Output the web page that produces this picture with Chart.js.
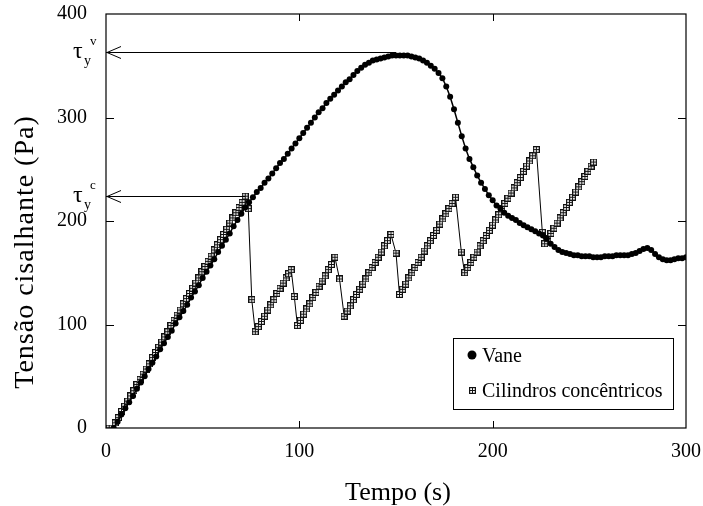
<!DOCTYPE html>
<html>
<head>
<meta charset="utf-8">
<script src="https://cdn.jsdelivr.net/npm/chart.js@4.4.1/dist/chart.umd.min.js"></script>
<style>
  html, body { margin: 0; padding: 0; background: #fff; }
  canvas { display: block; }
</style>
</head>
<body>
<canvas id="shearChart" width="703" height="506"></canvas>
<script>
// Values (tempo em s, tensão em Pa)
const vaneTime = [
    4, 6, 8, 10, 12, 14, 16, 18, 20, 22, 24, 26, 28, 30, 32, 34, 36, 38, 40, 42,
    44, 46, 48, 50, 52, 54, 56, 58, 60, 62, 64, 66, 68, 70, 72, 74, 76, 78, 80, 82,
    84, 86, 88, 90, 92, 94, 96, 98, 100, 102, 104, 106, 108, 110, 112, 114, 116, 118, 120, 122,
    124, 126, 128, 130, 132, 134, 136, 138, 140, 142, 144, 146, 148, 150, 152, 154, 156, 158, 160, 162,
    164, 166, 168, 170, 172, 174, 176, 178, 180, 182, 184, 186, 188, 190, 192, 194, 196, 198, 200, 202,
    204, 206, 208, 210, 212, 214, 216, 218, 220, 222, 224, 226, 228, 230, 232, 234, 236, 238, 240, 242,
    244, 246, 248, 250, 252, 254, 256, 258, 260, 262, 264, 266, 268, 270, 272, 274, 276, 278, 280, 282,
    284, 286, 288, 290, 292, 294, 296, 298, 300
];
const vaneStress = [
    0, 6, 13, 19, 25, 31, 38, 44, 50, 57, 63, 69, 76, 82, 88, 94, 101, 107, 113, 119,
    126, 132, 138, 145, 151, 157, 163, 170, 176, 182, 188, 195, 201, 207, 213, 218, 223, 228, 232, 237,
    241, 246, 251, 256, 260, 265, 270, 275, 280, 285, 290, 295, 300, 305, 309, 314, 318, 322, 326, 330,
    334, 337, 341, 345, 348, 351, 353, 355, 356, 357, 358, 359, 360, 360, 360, 360, 360, 359, 358, 357,
    355, 353, 350, 347, 343, 338, 330, 320, 308, 295, 282, 270, 260, 252, 244, 237, 231, 225, 220, 215,
    212, 208, 205, 203, 201, 198, 196, 194, 192, 190, 188, 186, 183, 178, 175, 172, 170, 169, 168, 167,
    167, 166, 166, 166, 165, 165, 165, 166, 166, 166, 167, 167, 167, 167, 168, 169, 171, 173, 174, 172,
    168, 165, 163, 162, 162, 163, 164, 164, 165
];

const cylTime = [
    0, 1.6, 3.2, 4.8, 6.4, 8, 9.6, 11.2, 12.8, 14.4, 16, 17.6, 19.2, 20.8, 22.4, 24, 25.6, 27.2, 28.8, 30.4,
    32, 33.6, 35.2, 36.8, 38.4, 40, 41.6, 43.2, 44.8, 46.4, 48, 49.6, 51.2, 52.8, 54.4, 56, 57.6, 59.2, 60.8, 62.4,
    64, 65.6, 67.2, 68.8, 70.4, 72,
    73.6, 75.4, 77.2,
    78.8, 80.4, 82, 83.6, 85.2, 86.8, 88.4, 90, 91.6, 93.2, 94.4, 95.8,
    97.4, 99,
    100.6, 102.2, 103.8, 105.4, 107, 108.6, 110.2, 111.8, 113.4, 115, 116.6, 118.4,
    120.8, 123.2,
    124.8, 126.4, 128, 129.6, 131.2, 132.8, 134.4, 136, 137.6, 139.2, 140.8, 142.4, 144, 145.6, 147.4,
    150, 151.8,
    153.4, 155, 156.6, 158.2, 159.8, 161.4, 163, 164.6, 166.2, 167.8, 169.4, 171, 172.6, 174.2, 175.8, 177.4, 179, 180.8,
    183.8, 185.5,
    187.1, 188.7, 190.3, 191.9, 193.5, 195.1, 196.7, 198.3, 199.9, 201.5, 203.1, 204.7, 206.3, 207.9, 209.5, 211.1,
    212.7, 214.3, 215.9, 217.5, 219.1, 220.7, 222.6,
    225.7, 226.9,
    228.5, 230.1, 231.7, 233.3, 234.9, 236.5, 238.1, 239.7, 241.3, 242.9, 244.5, 246.1, 247.7, 249.3, 250.9, 252.2
];
const cylStress = [
    0, 0, 0, 5, 10, 16, 21, 26, 31, 36, 42, 47, 52, 57, 62, 68, 73, 78, 83, 88,
    93, 99, 104, 109, 114, 120, 125, 130, 135, 140, 145, 151, 156, 161, 166, 172, 177, 182, 187, 192,
    198, 203, 208, 213, 218, 224,
    212, 124, 93,
    98, 103, 108, 114, 119, 124, 130, 135, 140, 145, 149, 153,
    127, 99,
    104, 110, 115, 120, 126, 131, 137, 142, 147, 153, 158, 165,
    144, 108,
    113, 118, 124, 129, 134, 139, 144, 150, 155, 160, 165, 170, 176, 181, 187,
    169, 129,
    134, 139, 145, 150, 155, 160, 165, 171, 176, 181, 186, 191, 197, 202, 207, 212, 217, 223,
    170, 150,
    155, 160, 165, 170, 176, 181, 186, 191, 196, 201, 206, 212, 217, 222, 227, 232,
    237, 242, 248, 253, 258, 263, 269,
    189, 178,
    183, 188, 193, 198, 203, 208, 213, 218, 223, 228, 233, 238, 243, 248, 253, 257
];

const seriesNames = ['Vane', 'Cilindros concêntricos'];
const xTicks = [0, 100, 200, 300];
const yTicks = [0, 100, 200, 300, 400];
const xTitle = 'Tempo (s)';
const yTitle = 'Tensão cisalhante (Pa)';

// yield stress markers: superscript, stress level, where the arrow line ends (s)
const yieldSup = ['v', 'c'];
const yieldStress = [363, 224];
const yieldArrowEnd = [150, 72];

const SERIF = '"Liberation Serif", "Times New Roman", serif';

// Square with a cross inside, like the original marker
function makeBoxCross(size) {
    const c = document.createElement('canvas');
    c.width = size;
    c.height = size;
    const g = c.getContext('2d');
    g.fillStyle = '#fff';
    g.fillRect(0, 0, size, size);
    g.strokeStyle = '#111';
    g.lineWidth = 1.2;
    g.strokeRect(0.6, 0.6, size - 1.2, size - 1.2);
    const m = Math.floor(size / 2) + 0.5;
    g.lineWidth = 1;
    g.beginPath();
    g.moveTo(m, 0); g.lineTo(m, size);
    g.moveTo(0, m); g.lineTo(size, m);
    g.stroke();
    return c;
}
const boxCross = makeBoxCross(7);

function toPoints(xs, ys) {
    return xs.map((t, i) => ({ x: t, y: ys[i] }));
}

// Frame, inward ticks, arrows, labels and legend
const figureDecor = {
    id: 'figureDecor',
    afterDatasetsDraw(chart) {
        const { ctx, chartArea: a, scales: { x, y } } = chart;
        ctx.save();
        ctx.strokeStyle = '#000';
        ctx.lineWidth = 1.2;
        ctx.strokeRect(a.left, a.top, a.right - a.left, a.bottom - a.top);

        // inward tick marks on all four sides
        ctx.lineWidth = 1;
        ctx.beginPath();
        xTicks.slice(1, -1).forEach(v => {
            const px = Math.round(x.getPixelForValue(v)) + 0.5;
            ctx.moveTo(px, a.bottom); ctx.lineTo(px, a.bottom - 7);
            ctx.moveTo(px, a.top); ctx.lineTo(px, a.top + 7);
        });
        yTicks.slice(1, -1).forEach(v => {
            const py = Math.round(y.getPixelForValue(v)) + 0.5;
            ctx.moveTo(a.left, py); ctx.lineTo(a.left + 8, py);
            ctx.moveTo(a.right, py); ctx.lineTo(a.right - 8, py);
        });
        ctx.stroke();

        // yield stress arrows
        yieldStress.forEach((s, i) => {
            const py = Math.round(y.getPixelForValue(s)) + 0.5;
            const xEnd = x.getPixelForValue(yieldArrowEnd[i]);
            ctx.beginPath();
            ctx.moveTo(a.left, py);
            ctx.lineTo(xEnd, py);
            ctx.moveTo(a.left + 15, py - 6);
            ctx.lineTo(a.left + 1, py);
            ctx.lineTo(a.left + 15, py + 6);
            ctx.stroke();

            ctx.fillStyle = '#000';
            ctx.textAlign = 'left';
            ctx.textBaseline = 'alphabetic';
            ctx.font = '24px ' + SERIF;
            ctx.fillText('τ', a.left - 33, py + 5);
            ctx.font = '14px ' + SERIF;
            ctx.fillText('y', a.left - 22, py + 12);
            ctx.font = '13px ' + SERIF;
            ctx.fillText(yieldSup[i], a.left - 16, py - 8);
        });

        // legend box
        const lx = 453, ly = 338, lw = 220, lh = 71;
        ctx.fillStyle = '#fff';
        ctx.fillRect(lx, ly, lw, lh);
        ctx.strokeStyle = '#000';
        ctx.strokeRect(lx + 0.5, ly + 0.5, lw, lh);
        ctx.fillStyle = '#000';
        ctx.beginPath();
        ctx.arc(lx + 19, ly + 17, 4.5, 0, Math.PI * 2);
        ctx.fill();
        ctx.drawImage(boxCross, lx + 16, ly + 49);
        ctx.font = '20px ' + SERIF;
        ctx.textBaseline = 'alphabetic';
        ctx.fillText(chart.data.datasets[0].label, lx + 29, ly + 24);
        ctx.fillText(chart.data.datasets[1].label, lx + 29, ly + 59);
        ctx.restore();
    },
    afterDraw(chart) {
        const { ctx, chartArea: a } = chart;
        ctx.save();
        ctx.fillStyle = '#000';
        ctx.textAlign = 'center';
        ctx.textBaseline = 'alphabetic';
        ctx.font = '26px ' + SERIF;
        ctx.fillText(xTitle, (a.left + a.right) / 2 + 2, 500);

        ctx.translate(33, 252);
        ctx.rotate(-Math.PI / 2);
        ctx.font = '28px ' + SERIF;
        ctx.letterSpacing = '1px';
        ctx.fillText(yTitle, 0, 0);
        ctx.restore();
    }
};

new Chart(document.getElementById('shearChart'), {
    type: 'scatter',
    data: {
        datasets: [
            {
                label: seriesNames[0],
                data: toPoints(vaneTime, vaneStress),
                showLine: true,
                borderColor: '#000',
                borderWidth: 1.5,
                backgroundColor: '#000',
                pointStyle: 'circle',
                pointRadius: 3,
                pointBorderWidth: 0,
                tension: 0
            },
            {
                label: seriesNames[1],
                data: toPoints(cylTime, cylStress),
                showLine: true,
                borderColor: '#000',
                borderWidth: 1,
                pointStyle: boxCross,
                pointRadius: 3.5,
                tension: 0
            }
        ]
    },
    options: {
        responsive: false,
        devicePixelRatio: 1,
        animation: false,
        layout: { padding: { left: 0, right: 17, top: 14, bottom: 0 } },
        plugins: {
            legend: { display: false },
            tooltip: { enabled: false }
        },
        scales: {
            x: {
                type: 'linear',
                min: 0,
                max: 300,
                afterBuildTicks: scale => { scale.ticks = xTicks.map(v => ({ value: v })); },
                afterFit: scale => {
                    scale.height = 78;
                    scale.paddingLeft = 0;
                    scale.paddingRight = 0;
                },
                grid: { display: false, drawTicks: false },
                border: { display: false },
                ticks: {
                    color: '#000',
                    padding: 12,
                    font: { family: SERIF, size: 20 }
                }
            },
            y: {
                type: 'linear',
                min: 0,
                max: 400,
                afterBuildTicks: scale => { scale.ticks = yTicks.map(v => ({ value: v })); },
                afterFit: scale => {
                    scale.width = 106;
                    scale.paddingTop = 0;
                    scale.paddingBottom = 0;
                },
                grid: { display: false, drawTicks: false },
                border: { display: false },
                ticks: {
                    color: '#000',
                    padding: 19,
                    font: { family: SERIF, size: 20 }
                }
            }
        }
    },
    plugins: [figureDecor]
});
</script>
</body>
</html>
